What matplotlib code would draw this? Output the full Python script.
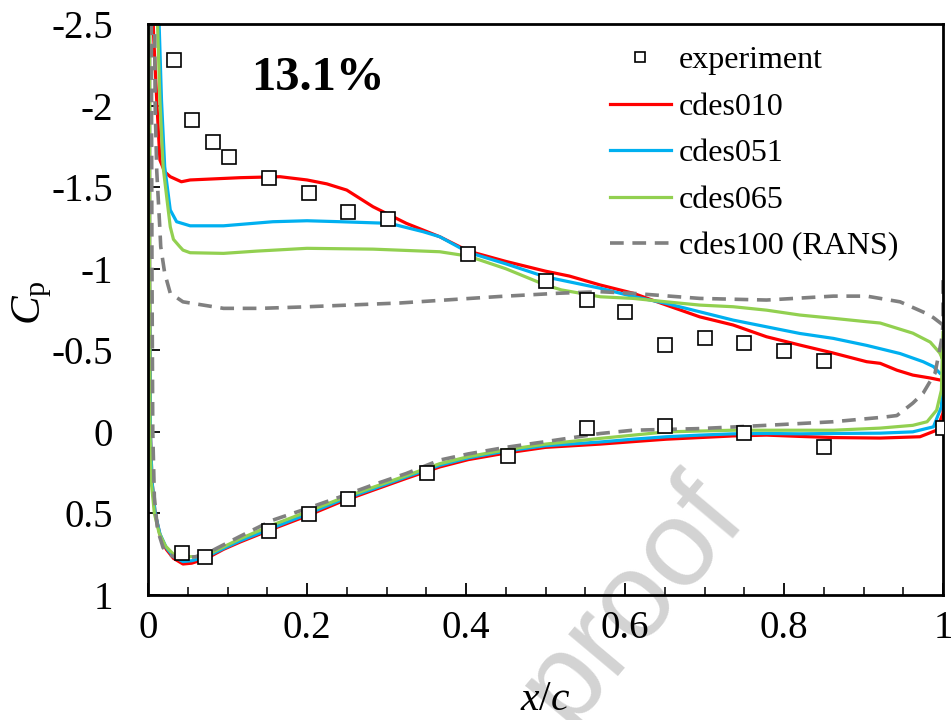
import matplotlib
matplotlib.use("Agg")
import matplotlib.pyplot as plt
from matplotlib.ticker import MultipleLocator

plt.rcParams["font.family"] = ["Liberation Serif", "DejaVu Serif"]
plt.rcParams["mathtext.fontset"] = "custom"
plt.rcParams["mathtext.rm"] = "Liberation Serif"
plt.rcParams["mathtext.it"] = "Liberation Serif:italic"
plt.rcParams["axes.unicode_minus"] = False

# experiment (upper + lower surface)
exp_x = [0.033, 0.055, 0.082, 0.102, 0.152, 0.203, 0.252, 0.302, 0.403, 0.5, 0.552, 0.6,
         0.65, 0.7, 0.75, 0.8, 0.85,
         0.043, 0.072, 0.152, 0.203, 0.252, 0.351, 0.453, 0.552, 0.65, 0.75, 0.85, 1.0]
exp_cp = [-2.28, -1.91, -1.777, -1.685, -1.556, -1.464, -1.347, -1.304, -1.09, -0.924, -0.808, -0.734,
          -0.532, -0.575, -0.544, -0.495, -0.434,
          0.743, 0.768, 0.609, 0.504, 0.412, 0.253, 0.149, -0.023, -0.035, 0.008, 0.093, -0.023]

# cdes010 : upper surface TE -> LE, then lower surface LE -> TE
cdes010_x = [0.996, 0.984, 0.962, 0.942, 0.921, 0.904, 0.862, 0.82, 0.778, 0.736, 0.694, 0.652,
             0.61, 0.569, 0.53, 0.5, 0.45, 0.403, 0.367, 0.325, 0.283, 0.25, 0.225, 0.2, 0.166,
             0.116, 0.053, 0.042, 0.028, 0.021, 0.015, 0.011, 0.007, 0.005,
             0.002, 0.002, 0.003, 0.005, 0.009, 0.015, 0.023, 0.032, 0.044, 0.055, 0.074, 0.095,
             0.116, 0.157, 0.2, 0.242, 0.283, 0.325, 0.367, 0.403, 0.45, 0.5, 0.569, 0.61, 0.652,
             0.694, 0.736, 0.778, 0.82, 0.862, 0.921, 0.971, 0.992, 1.0, 1.0]
cdes010_cp = [-0.318, -0.33, -0.348, -0.378, -0.42, -0.43, -0.483, -0.532, -0.583, -0.655, -0.705, -0.777,
              -0.85, -0.9, -0.955, -0.985, -1.045, -1.108, -1.196, -1.278, -1.38, -1.482, -1.52, -1.544, -1.564,
              -1.558, -1.544, -1.533, -1.564, -1.594, -1.666, -2.03, -2.44, -2.8,
              -2.8, -1.0, 0.0, 0.3, 0.5, 0.63, 0.72, 0.775, 0.81, 0.805, 0.775, 0.72,
              0.675, 0.595, 0.515, 0.43, 0.358, 0.285, 0.215, 0.17, 0.13, 0.095, 0.075, 0.06, 0.045,
              0.035, 0.025, 0.02, 0.028, 0.035, 0.038, 0.03, -0.01, -0.115, -0.3]

cdes051_x = [0.996, 0.988, 0.975, 0.946, 0.904, 0.862, 0.82, 0.778, 0.736, 0.694, 0.652, 0.61,
             0.569, 0.5, 0.45, 0.403, 0.367, 0.346, 0.304, 0.242, 0.2, 0.157, 0.095, 0.053,
             0.036, 0.028, 0.021, 0.017, 0.014, 0.012,
             0.002, 0.002, 0.003, 0.005, 0.009, 0.015, 0.023, 0.032, 0.044, 0.055, 0.074, 0.095,
             0.116, 0.157, 0.2, 0.242, 0.283, 0.325, 0.367, 0.403, 0.45, 0.5, 0.569, 0.61, 0.652,
             0.694, 0.736, 0.778, 0.82, 0.862, 0.921, 0.962, 0.988, 0.998, 1.0]
cdes051_cp = [-0.36, -0.4, -0.43, -0.48, -0.53, -0.573, -0.603, -0.644, -0.685, -0.736, -0.787, -0.83,
              -0.88, -0.95, -1.03, -1.1, -1.196, -1.227, -1.278, -1.288, -1.294, -1.288, -1.263, -1.263,
              -1.288, -1.36, -1.625, -2.03, -2.5, -2.8,
              -2.8, -1.0, 0.0, 0.3, 0.5, 0.625, 0.71, 0.765, 0.795, 0.79, 0.765, 0.715,
              0.668, 0.588, 0.505, 0.42, 0.35, 0.276, 0.205, 0.16, 0.118, 0.085, 0.062, 0.045, 0.03,
              0.02, 0.012, 0.01, 0.012, 0.01, 0.008, 0.0, -0.031, -0.154, -0.318]

cdes065_x = [1.0, 0.996, 0.984, 0.962, 0.921, 0.904, 0.862, 0.82, 0.778, 0.736, 0.694, 0.652,
             0.61, 0.569, 0.52, 0.5, 0.45, 0.403, 0.367, 0.283, 0.2, 0.137, 0.095, 0.053, 0.044,
             0.04, 0.032, 0.028, 0.024, 0.019, 0.015, 0.012, 0.011,
             0.002, 0.002, 0.0025, 0.004, 0.008, 0.014, 0.022, 0.032, 0.044, 0.06, 0.074, 0.116,
             0.157, 0.2, 0.242, 0.283, 0.325, 0.367, 0.403, 0.45, 0.5, 0.569, 0.652, 0.736, 0.862,
             0.921, 0.962, 0.98, 0.992, 0.998, 1.0]
cdes065_cp = [-0.44, -0.483, -0.55, -0.605, -0.667, -0.675, -0.696, -0.716, -0.746, -0.767, -0.777, -0.797,
              -0.818, -0.828, -0.87, -0.9, -1.0, -1.077, -1.104, -1.12, -1.125, -1.108, -1.094, -1.098, -1.114,
              -1.135, -1.18, -1.257, -1.42, -1.625, -2.03, -2.5, -2.8,
              -2.8, -1.0, 0.0, 0.3, 0.5, 0.62, 0.7, 0.75, 0.765, 0.765, 0.755, 0.655,
              0.57, 0.49, 0.41, 0.34, 0.268, 0.195, 0.152, 0.11, 0.075, 0.04, 0.0, -0.01, -0.01,
              -0.023, -0.04, -0.062, -0.133, -0.256, -0.61]

cdes100_x = [1.0, 1.0, 0.988, 0.979, 0.946, 0.904, 0.862, 0.778, 0.694, 0.61, 0.569, 0.518,
             0.443, 0.317, 0.191, 0.141, 0.095, 0.044, 0.028, 0.021, 0.016, 0.015, 0.011, 0.009, 0.008,
             0.004, 0.005, 0.006, 0.008, 0.012, 0.019, 0.03, 0.044, 0.06, 0.074, 0.116, 0.157,
             0.2, 0.242, 0.283, 0.325, 0.367, 0.403, 0.45, 0.5, 0.569, 0.61, 0.694, 0.778, 0.862,
             0.925, 0.942, 0.962, 0.975, 0.99, 0.998, 1.0]
cdes100_cp = [-0.93, -0.655, -0.7, -0.726, -0.797, -0.832, -0.832, -0.808, -0.818, -0.849, -0.859, -0.85,
              -0.83, -0.79, -0.765, -0.757, -0.757, -0.797, -0.85, -0.973, -1.135, -1.237, -1.6, -2.0, -2.8,
              -2.8, -1.0, 0.0, 0.4, 0.6, 0.71, 0.76, 0.775, 0.765, 0.745, 0.64, 0.541,
              0.47, 0.398, 0.325, 0.255, 0.173, 0.135, 0.095, 0.06, 0.01, -0.01, -0.02, -0.04, -0.062,
              -0.09, -0.1, -0.176, -0.237, -0.36, -0.56, -0.655]

x_ticks = [0, 0.2, 0.4, 0.6, 0.8, 1.0]
x_labels = ["0", "0.2", "0.4", "0.6", "0.8", "1"]
y_ticks = [-2.5, -2, -1.5, -1, -0.5, 0, 0.5, 1]
y_labels = ["-2.5", "-2", "-1.5", "-1", "-0.5", "0", "0.5", "1"]

fig = plt.figure(figsize=(9.51, 7.2), dpi=100)
ax = fig.add_axes([148 / 951, 1 - 595 / 720, 795 / 951, 571 / 720])
ax.patch.set_alpha(0)

# watermark of the journal, drawn under the plot
fig.text(0.785, 0.286, "proof", family="Liberation Sans", fontsize=88,
         color="#d3d3d3", rotation=50, rotation_mode="anchor", ha="right", va="baseline",
         zorder=-1)

ax.plot(exp_x, exp_cp, ls="none", marker="s", ms=9.5, mfc="white", mec="black", mew=1.2,
        label="experiment", zorder=5)
ax.plot(cdes010_x, cdes010_cp, color="#FF0000", lw=2.3, label="cdes010")
ax.plot(cdes051_x, cdes051_cp, color="#00B0F0", lw=2.3, label="cdes051")
ax.plot(cdes065_x, cdes065_cp, color="#92D050", lw=2.3, label="cdes065")
ax.plot(cdes100_x, cdes100_cp, color="#808080", lw=2.6, dashes=(3.8, 2.4), label="cdes100 (RANS)")

ax.set_xlim(0, 1)
ax.set_ylim(1, -2.5)
ax.set_xticks(x_ticks)
ax.set_xticklabels(x_labels)
ax.set_yticks(y_ticks)
ax.set_yticklabels(y_labels)
ax.xaxis.set_minor_locator(MultipleLocator(0.05))
ax.tick_params(axis="both", which="major", direction="in", length=8.5, width=1.3,
               labelsize=28, colors="black")
ax.tick_params(axis="x", which="major", pad=11)
ax.tick_params(axis="y", which="major", pad=25)
ax.tick_params(axis="x", which="minor", direction="in", length=5.5, width=1.1)
for s in ax.spines.values():
    s.set_linewidth(2.0)
    s.set_color("black")

ax.text(0.214, 0.905, "13.1%", transform=ax.transAxes, fontsize=35, fontweight="bold",
        ha="center", va="center")

fig.text(32 / 951, 1 - 303 / 720, r"$C_\mathrm{p}$", fontsize=31, rotation=90,
         ha="center", va="center")
fig.text(545 / 951, 1 - 700 / 720, r"$x/c$", fontsize=30, ha="center", va="center")

leg = ax.legend(loc="upper left", bbox_to_anchor=((610 - 148) / 795, 1 - (46 - 24) / 571),
                frameon=False, fontsize=23, handlelength=1.9, handletextpad=0.25,
                labelspacing=0.535, borderpad=0, borderaxespad=0, markerscale=0.75)

fig.savefig("out.png", dpi=100)
